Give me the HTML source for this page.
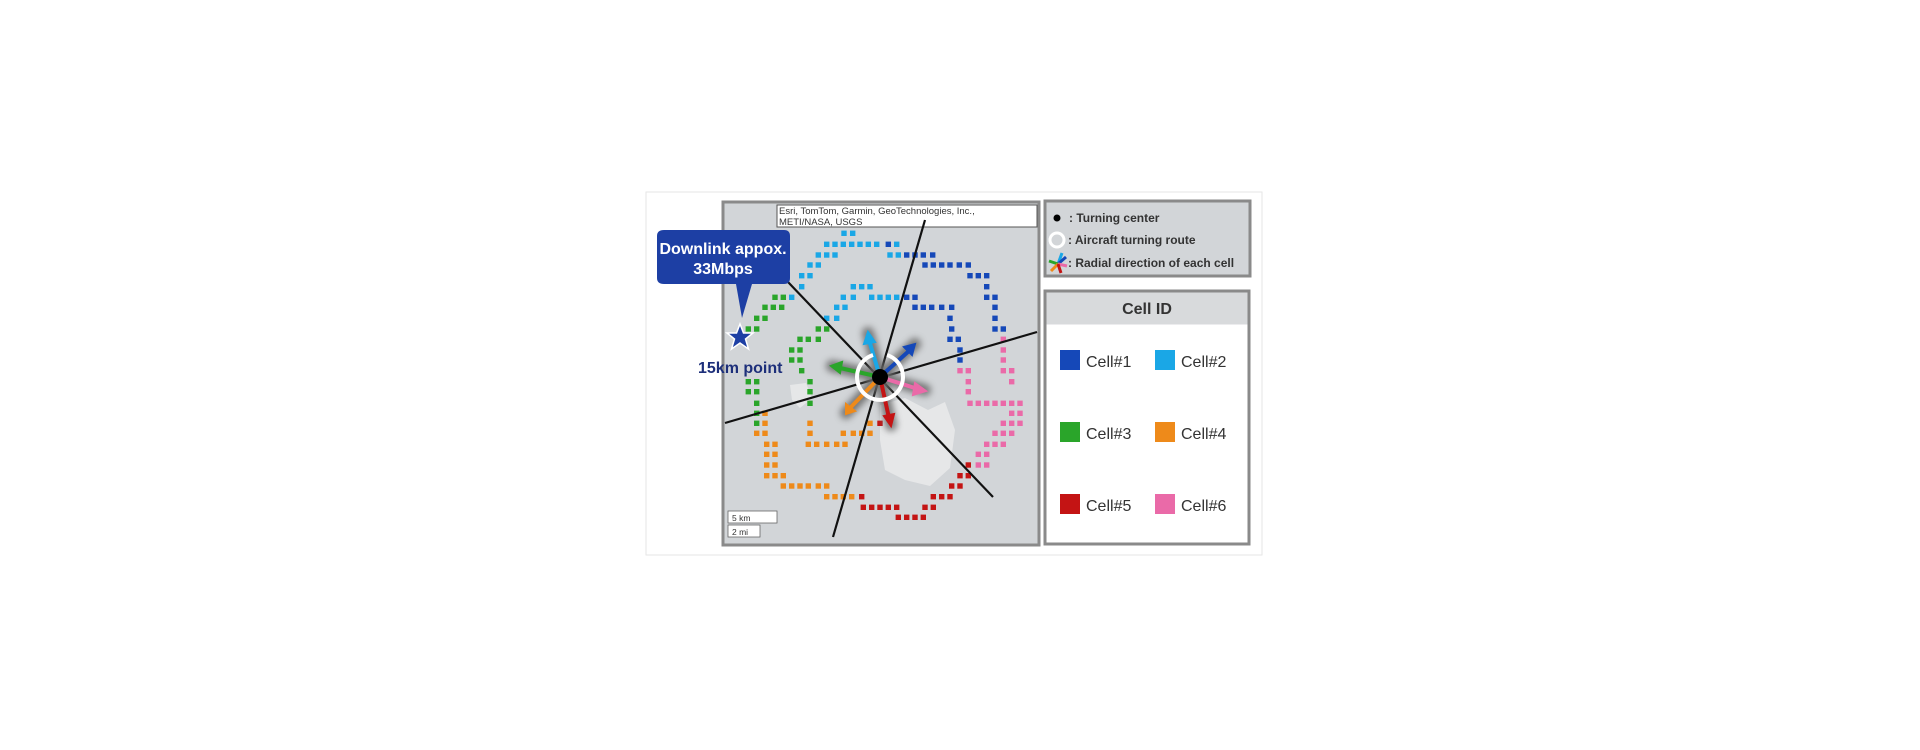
<!DOCTYPE html>
<html><head><meta charset="utf-8"><style>
html,body{margin:0;padding:0;background:#fff;width:1920px;height:750px;overflow:hidden}
svg{display:block}
text{font-family:"Liberation Sans",Arial,sans-serif}
</style></head><body>
<svg width="1920" height="750" viewBox="0 0 1920 750" xmlns="http://www.w3.org/2000/svg">
<defs>
<filter id="bl" x="-50%" y="-50%" width="200%" height="200%"><feGaussianBlur stdDeviation="3.5"/></filter>
</defs>
<rect x="646" y="192" width="616" height="363" fill="#fff" stroke="#e6e6e6"/>
<rect x="723" y="202" width="316" height="343" fill="#d2d5d8" stroke="#8a8a8a" stroke-width="3"/>
<path d="M880,405 L905,398 L928,410 L945,402 L955,430 L950,468 L930,486 L905,480 L885,470 L880,440 Z" fill="#e6e7e8"/>
<path d="M790,385 L806,383 L812,398 L800,408 L792,400 Z" fill="#e6e7e8"/>
<rect x="777" y="205" width="260" height="22" fill="#fff" stroke="#555"/>
<text x="779" y="214" font-size="9.5" fill="#333">Esri, TomTom, Garmin, GeoTechnologies, Inc.,</text>
<text x="779" y="225" font-size="9.5" fill="#333">METI/NASA, USGS</text>
<g id="sq"></g>
<g stroke="#111" stroke-width="2.2">
<line x1="925" y1="220" x2="833" y2="537"/>
<line x1="725" y1="423" x2="1037" y2="332"/>
<line x1="788" y1="282" x2="993" y2="497"/>
</g>
<g filter="url(#bl)" stroke="#666" stroke-width="12" stroke-linecap="round" opacity="0.85">
<line x1="880" y1="377" x2="868" y2="333"/><line x1="880" y1="377" x2="915" y2="344"/>
<line x1="880" y1="377" x2="832" y2="366"/><line x1="880" y1="377" x2="925" y2="390"/>
<line x1="880" y1="377" x2="846" y2="413"/><line x1="880" y1="377" x2="891" y2="425"/>
</g>
<g stroke-width="4" stroke-linecap="round" fill="none">
<line x1="880" y1="377" x2="869" y2="340" stroke="#1aa7e6"/><path d="M864,344 L868,332 L875,342Z" fill="#1aa7e6" stroke="#1aa7e6" stroke-width="2"/>
<line x1="880" y1="377" x2="910" y2="350" stroke="#1548b8"/><path d="M904,347 L915,344 L912,355Z" fill="#1548b8" stroke="#1548b8" stroke-width="2"/>
<line x1="880" y1="377" x2="840" y2="368" stroke="#2aa52a"/><path d="M842,362 L831,366 L840,373Z" fill="#2aa52a" stroke="#2aa52a" stroke-width="2"/>
<line x1="880" y1="377" x2="918" y2="389" stroke="#ea6aa8"/><path d="M915,383 L926,391 L913,395Z" fill="#ea6aa8" stroke="#ea6aa8" stroke-width="2"/>
<line x1="880" y1="377" x2="851" y2="407" stroke="#ee8a1a"/><path d="M846,404 L846,414 L855,411Z" fill="#ee8a1a" stroke="#ee8a1a" stroke-width="2"/>
<line x1="880" y1="377" x2="889" y2="418" stroke="#c41414"/><path d="M884,416 L891,426 L894,414Z" fill="#c41414" stroke="#c41414" stroke-width="2"/>
</g>
<path d="M873,355 A23,23 0 1,0 887,355" fill="none" stroke="#fff" stroke-width="4"/>
<circle cx="880" cy="377" r="8" fill="#000"/>
<path d="M664,230 H784 Q790,230 790,236 V278 Q790,284 784,284 H752 L742,318 L736,284 H664 Q657,284 657,278 V236 Q657,230 664,230Z" fill="#1d3fa4"/>
<text x="723" y="254" font-size="16" font-weight="bold" fill="#fff" text-anchor="middle">Downlink appox.</text>
<text x="723" y="274" font-size="16" font-weight="bold" fill="#fff" text-anchor="middle">33Mbps</text>
<polygon points="740,324 743.5,333 753,333 745.5,339 748.5,349 740,343 731.5,349 734.5,339 727,333 736.5,333" fill="#1d3fa4" stroke="#fff" stroke-width="1.5"/>
<text x="698" y="373" font-size="16" font-weight="bold" fill="#1d2f7a">15km point</text>
<rect x="728" y="511" width="49" height="12" fill="#fff" stroke="#666" stroke-width="0.8"/>
<text x="732" y="521" font-size="8.5" fill="#333">5 km</text>
<rect x="728" y="525" width="32" height="12" fill="#fff" stroke="#666" stroke-width="0.8"/>
<text x="732" y="535" font-size="8.5" fill="#333">2 mi</text>
<rect x="1045" y="201" width="205" height="75" fill="#d2d5d8" stroke="#8a8a8a" stroke-width="3"/>
<circle cx="1057" cy="218" r="3.5" fill="#000"/>
<text x="1069" y="222" font-size="12" font-weight="bold" fill="#333">: Turning center</text>
<circle cx="1057" cy="240" r="7" fill="none" stroke="#fff" stroke-width="3"/>
<text x="1068" y="244" font-size="12" font-weight="bold" fill="#333">: Aircraft turning route</text>
<g stroke-width="3"><line x1="1058" y1="264" x2="1062" y2="253" stroke="#1aa7e6"/><line x1="1058" y1="264" x2="1066" y2="257" stroke="#1548b8"/><line x1="1058" y1="264" x2="1049" y2="261" stroke="#2aa52a"/><line x1="1058" y1="264" x2="1067" y2="266" stroke="#ea6aa8"/><line x1="1058" y1="264" x2="1051" y2="271" stroke="#ee8a1a"/><line x1="1058" y1="264" x2="1061" y2="273" stroke="#c41414"/></g>
<text x="1068" y="267" font-size="12" font-weight="bold" fill="#333">: Radial direction of each cell</text>
<rect x="1045" y="291" width="204" height="253" fill="#fff" stroke="#8a8a8a" stroke-width="3"/>
<rect x="1046.5" y="292.5" width="201" height="32" fill="#d8dadc"/>
<text x="1147" y="314" font-size="16" font-weight="bold" fill="#333" text-anchor="middle">Cell ID</text>
<rect x="1060" y="350" width="20" height="20" fill="#1548b8"/><text x="1086" y="367" font-size="16" fill="#333">Cell#1</text>
<rect x="1155" y="350" width="20" height="20" fill="#1aa7e6"/><text x="1181" y="367" font-size="16" fill="#333">Cell#2</text>
<rect x="1060" y="422" width="20" height="20" fill="#2aa52a"/><text x="1086" y="439" font-size="16" fill="#333">Cell#3</text>
<rect x="1155" y="422" width="20" height="20" fill="#ee8a1a"/><text x="1181" y="439" font-size="16" fill="#333">Cell#4</text>
<rect x="1060" y="494" width="20" height="20" fill="#c41414"/><text x="1086" y="511" font-size="16" fill="#333">Cell#5</text>
<rect x="1155" y="494" width="20" height="20" fill="#ea6aa8"/><text x="1181" y="511" font-size="16" fill="#333">Cell#6</text>
</svg>
<script>
var C={L:"#1aa7e6",D:"#1548b8",G:"#2aa52a",O:"#ee8a1a",R:"#c41414",P:"#ea6aa8"};
var rows=[
[145,"L",[612,638]],
[178,"L",[560,585,610,635,660,685,710,770]],[178,"D",[745]],
[210,"L",[535,560,585,750,775]],[210,"D",[800,825,850,878]],
[240,"L",[510,535]],[240,"D",[855,880,905,930,958,985]],
[272,"L",[485,510]],[272,"D",[990,1015,1040]],
[305,"L",[485,640,665,690]],[305,"D",[1040]],
[337,"L",[455,610,640,695,720,745,770]],[337,"D",[800,825,1040,1065]],[337,"G",[405,430]],
[367,"L",[590,615]],[367,"D",[825,850,875,905,935,1065]],[367,"G",[375,400,425]],
[400,"L",[560,590]],[400,"D",[930,1065]],[400,"G",[350,375]],
[432,"D",[935,1065,1090]],[432,"G",[325,350,535,560]],
[463,"G",[480,505,535]],[463,"D",[930,955]],[463,"P",[1090]],
[495,"G",[455,480]],[495,"D",[960]],[495,"P",[1090]],
[525,"G",[455,480]],[525,"D",[960]],[525,"P",[1090]],
[557,"G",[485]],[557,"P",[960,985,1090,1115]],
[590,"G",[325,350,510]],[590,"P",[985,1115]],
[620,"G",[325,350,510]],[620,"P",[985]],
[655,"G",[350,510]],[655,"P",[990,1015,1040,1065,1090,1115,1140]],
[685,"G",[350]],[685,"O",[375]],[685,"P",[1115,1140]],
[715,"G",[350]],[715,"O",[375,510,690]],[715,"R",[720]],[715,"P",[1090,1115,1140]],
[745,"O",[350,375,510,610,640,665,690]],[745,"P",[1065,1090,1115]],
[778,"O",[380,405,505,530,560,590,615]],[778,"P",[1040,1065,1090]],
[808,"O",[380,405]],[808,"P",[1015,1040]],
[840,"O",[380,405]],[840,"R",[985]],[840,"P",[1015,1040]],
[872,"O",[380,405,430]],[872,"R",[960,985]],
[903,"O",[430,455,480,505,535,560]],[903,"R",[935,960]],
[935,"O",[560,585,610,635]],[935,"R",[665,880,905,930]],
[967,"R",[670,695,720,745,770,855,880]],
[997,"R",[775,800,825,850]]];
var s="";rows.forEach(function(r){r[2].forEach(function(x){s+='<rect x="'+(640+x/3-2.7).toFixed(1)+'" y="'+(185+r[0]/3-2.7).toFixed(1)+'" width="5.4" height="5.4" fill="'+C[r[1]]+'"/>';});});
document.getElementById("sq").innerHTML=s;
</script>
</body></html>
